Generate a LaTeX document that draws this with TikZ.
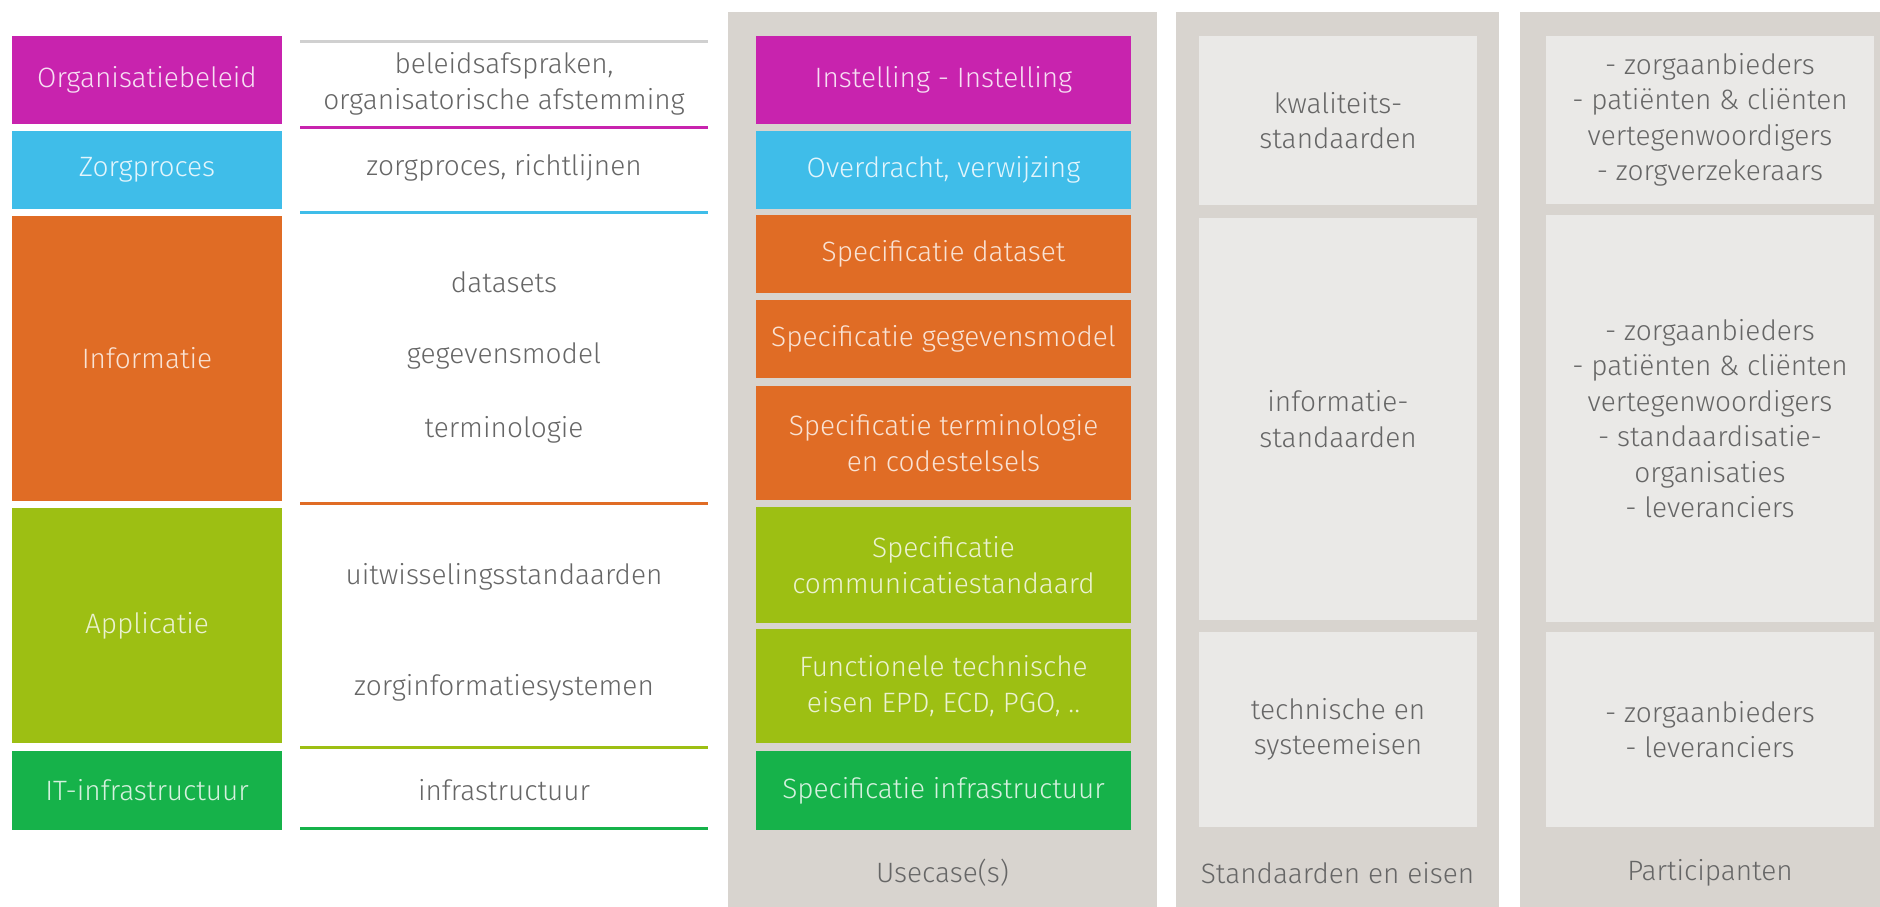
\documentclass[tikz,border=0pt]{standalone}
\usepackage{fontspec}
\setmainfont{Fira Sans}[UprightFont=* Light]
\definecolor{cMag}{HTML}{C823AE}
\definecolor{cBlue}{HTML}{3FBDE9}
\definecolor{cOrange}{HTML}{E06C25}
\definecolor{cYG}{HTML}{9DBF13}
\definecolor{cGreen}{HTML}{16B24A}
\definecolor{cPanel}{HTML}{D8D4CF}
\definecolor{cInner}{HTML}{EAE9E7}
\definecolor{cText}{HTML}{666666}
\definecolor{cRule}{HTML}{D0D0D0}
\tikzset{
  txt/.style={font=\fontsize{28}{35.5}\selectfont, align=center, text=cText, inner sep=0pt},
  colbox/.style={draw=none, inner sep=0pt, align=center, font=\fontsize{28}{35.5}\selectfont},
  mag/.style={colbox, fill=cMag, text=white!85!cMag},
  blu/.style={colbox, fill=cBlue, text=white!85!cBlue},
  ora/.style={colbox, fill=cOrange, text=white!80!cOrange},
  ygr/.style={colbox, fill=cYG, text=white!80!cYG},
  grn/.style={colbox, fill=cGreen, text=white!82!cGreen},
  panel/.style={fill=cPanel, draw=none},
  inner/.style={colbox, fill=cInner, text=cText},
  rule/.style={line width=3pt}
}
\begin{document}
\begin{tikzpicture}[x=1pt,y=-1pt]
\useasboundingbox (0,0) rectangle (1880,907);
\fill[white] (0,0) rectangle (1880,907);
% panels
\fill[panel] (728,12) rectangle (1157,907);
\fill[panel] (1176,12) rectangle (1499,907);
\fill[panel] (1520,12) rectangle (1880,907);
% left boxes
\node[mag, minimum width=270pt, minimum height=88pt] (l1) at (147,80) {Organisatiebeleid};
\node[blu, minimum width=270pt, minimum height=78pt] (l2) at (147,170) {Zorgproces};
\node[ora, minimum width=270pt, minimum height=285pt] (l3) at (147,358.5) {Informatie};
\node[ygr, minimum width=270pt, minimum height=235pt] (l4) at (147,625.5) {Applicatie};
\node[grn, minimum width=270pt, minimum height=79pt] (l5) at (147,790.5) {IT-infrastructuur};
% middle rules
\draw[rule, cRule] (300,42) -- (708,42);
\draw[rule, cMag] (300,127) -- (708,127);
\draw[rule, cBlue] (300,212) -- (708,212);
\draw[rule, cOrange] (300,503) -- (708,503);
\draw[rule, cYG] (300,747) -- (708,747);
\draw[rule, cGreen] (300,828) -- (708,828);
% middle texts
\node[txt] (m1) at (504,84) {beleidsafspraken,\\organisatorische afstemming};
\node[txt] (m2) at (504,168) {zorgproces, richtlijnen};
\node[txt] (m3) at (504,282) {datasets};
\node[txt] (m4) at (504,356) {gegevensmodel};
\node[txt] (m5) at (504,430) {terminologie};
\node[txt] (m6) at (504,577) {uitwisselingsstandaarden};
\node[txt] (m7) at (504,688) {zorginformatiesystemen};
\node[txt] (m8) at (504,790) {infrastructuur};
% usecase boxes
\node[mag, minimum width=375pt, minimum height=88pt] (u1) at (943.5,80) {Instelling - Instelling};
\node[blu, minimum width=375pt, minimum height=78pt] (u2) at (943.5,170) {Overdracht, verwijzing};
\node[ora, minimum width=375pt, minimum height=78pt] (u3) at (943.5,254) {Specificatie dataset};
\node[ora, minimum width=375pt, minimum height=78pt] (u4) at (943.5,339) {Specificatie gegevensmodel};
\node[ora, minimum width=375pt, minimum height=114pt] (u5) at (943.5,443) {Specificatie terminologie\\en codestelsels};
\node[ygr, minimum width=375pt, minimum height=116pt] (u6) at (943.5,565) {Specificatie\\communicatiestandaard};
\node[ygr, minimum width=375pt, minimum height=114pt] (u7) at (943.5,686) {Functionele technische\\eisen EPD, ECD, PGO, ..};
\node[grn, minimum width=375pt, minimum height=79pt] (u8) at (943.5,790.5) {Specificatie infrastructuur};
% standaarden inner boxes
\node[inner, minimum width=278pt, minimum height=169pt] (s1) at (1338,120.5) {kwaliteits-\\standaarden};
\node[inner, minimum width=278pt, minimum height=402pt] (s2) at (1338,419) {informatie-\\standaarden};
\node[inner, minimum width=278pt, minimum height=195pt] (s3) at (1338,729.5) {technische en\\systeemeisen};
% participanten inner boxes
\node[inner, minimum width=328pt, minimum height=168pt] (p1) at (1710,120) {- zorgaanbieders\\- patiënten \& cliënten\\vertegenwoordigers\\- zorgverzekeraars};
\node[inner, minimum width=328pt, minimum height=407pt] (p2) at (1710,418.5) {- zorgaanbieders\\- patiënten \& cliënten\\vertegenwoordigers\\- standaardisatie-\\organisaties\\- leveranciers};
\node[inner, minimum width=328pt, minimum height=195pt] (p3) at (1710,729.5) {- zorgaanbieders\\- leveranciers};
% panel labels
\node[txt] (t1) at (942.5,873) {Usecase(s)};
\node[txt] (t2) at (1337.5,873) {Standaarden en eisen};
\node[txt] (t3) at (1710,873) {Participanten};
\end{tikzpicture}
\end{document}
